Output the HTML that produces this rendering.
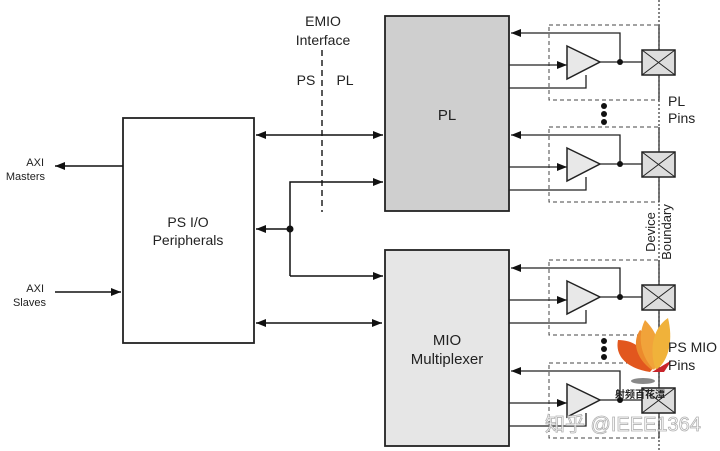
<!DOCTYPE html>
<html><head><meta charset="utf-8"><style>
html,body{margin:0;padding:0;background:#fff;}
svg{display:block;font-family:"Liberation Sans","Noto Sans CJK SC",sans-serif;}
</style></head><body>
<svg width="720" height="451" viewBox="0 0 720 451" xmlns="http://www.w3.org/2000/svg">
<defs>
<marker id="a" markerWidth="10" markerHeight="8" refX="10" refY="4" orient="auto" markerUnits="userSpaceOnUse">
<path d="M0,0 L10,4 L0,8 Z" fill="#111"/></marker>
<marker id="as" markerWidth="10" markerHeight="8" refX="0" refY="4" orient="auto" markerUnits="userSpaceOnUse">
<path d="M10,0 L0,4 L10,8 Z" fill="#111"/></marker>
<g id="ch">
<rect x="549" y="0" width="110" height="75" fill="none" stroke="#444" stroke-width="1" stroke-dasharray="4,3"/>
<line x1="659" y1="0" x2="659" y2="75" stroke="#333" stroke-width="1.3"/>
<polyline points="620,37 620,8 511,8" fill="none" stroke="#222" stroke-width="1.3" marker-end="url(#a)"/>
<line x1="509" y1="40" x2="567" y2="40" stroke="#222" stroke-width="1.3" marker-end="url(#a)"/>
<polyline points="509,63 586,63 586,50" fill="none" stroke="#222" stroke-width="1.3"/>
<path d="M567,21 L600,37 L567,54 Z" fill="#e8e8e8" stroke="#222" stroke-width="1.5"/>
<line x1="600" y1="37" x2="642" y2="37" stroke="#222" stroke-width="1.3"/>
<circle cx="620" cy="37" r="3" fill="#111"/>
<rect x="642" y="25" width="33" height="25" fill="#ddd" stroke="#222" stroke-width="1.5"/>
<path d="M642,25 L675,50 M675,25 L642,50" stroke="#222" stroke-width="1"/>
</g>
</defs>

<line x1="659" y1="0" x2="659" y2="451" stroke="#333" stroke-width="1.2" stroke-dasharray="2,2"/>

<rect x="123" y="118" width="131" height="225" fill="#fff" stroke="#222" stroke-width="1.8"/>
<text x="188" y="227" font-size="14" text-anchor="middle" fill="#222">PS I/O</text>
<text x="188" y="245" font-size="14" text-anchor="middle" fill="#222">Peripherals</text>

<rect x="385" y="16" width="124" height="195" fill="#cfcfcf" stroke="#222" stroke-width="1.8"/>
<text x="447" y="120" font-size="15" text-anchor="middle" fill="#222">PL</text>

<rect x="385" y="250" width="124" height="196" fill="#e6e6e6" stroke="#222" stroke-width="1.8"/>
<text x="447" y="345" font-size="15" text-anchor="middle" fill="#222">MIO</text>
<text x="447" y="364" font-size="15" text-anchor="middle" fill="#222">Multiplexer</text>

<text x="323" y="26" font-size="14" text-anchor="middle" fill="#222">EMIO</text>
<text x="323" y="45" font-size="14" text-anchor="middle" fill="#222">Interface</text>
<line x1="322" y1="50" x2="322" y2="212" stroke="#222" stroke-width="1.5" stroke-dasharray="6,4"/>
<text x="306" y="85" font-size="14" text-anchor="middle" fill="#222">PS</text>
<text x="345" y="85" font-size="14" text-anchor="middle" fill="#222">PL</text>

<line x1="256" y1="135" x2="383" y2="135" stroke="#111" stroke-width="1.5" marker-start="url(#as)" marker-end="url(#a)"/>
<polyline points="290,276 290,182 383,182" fill="none" stroke="#111" stroke-width="1.5" marker-end="url(#a)"/>
<line x1="290" y1="229" x2="256" y2="229" stroke="#111" stroke-width="1.5" marker-end="url(#a)"/>
<line x1="290" y1="276" x2="383" y2="276" stroke="#111" stroke-width="1.5" marker-end="url(#a)"/>
<circle cx="290" cy="229" r="3.5" fill="#111"/>
<line x1="256" y1="323" x2="382" y2="323" stroke="#111" stroke-width="1.5" marker-start="url(#as)" marker-end="url(#a)"/>

<line x1="123" y1="166" x2="55" y2="166" stroke="#111" stroke-width="1.5" marker-end="url(#a)"/>
<text x="44" y="166" font-size="11" text-anchor="end" fill="#222">AXI</text>
<text x="45" y="180" font-size="11" text-anchor="end" fill="#222">Masters</text>
<line x1="55" y1="292" x2="121" y2="292" stroke="#111" stroke-width="1.5" marker-end="url(#a)"/>
<text x="44" y="292" font-size="11" text-anchor="end" fill="#222">AXI</text>
<text x="46" y="306" font-size="11" text-anchor="end" fill="#222">Slaves</text>

<use href="#ch" transform="translate(0,25)"/>
<use href="#ch" transform="translate(0,127)"/>
<use href="#ch" transform="translate(0,260)"/>
<use href="#ch" transform="translate(0,363)"/>

<circle cx="604" cy="106" r="3" fill="#111"/><circle cx="604" cy="114" r="3" fill="#111"/><circle cx="604" cy="122" r="3" fill="#111"/>
<circle cx="604" cy="341" r="3" fill="#111"/><circle cx="604" cy="349" r="3" fill="#111"/><circle cx="604" cy="357" r="3" fill="#111"/>

<text x="668" y="106" font-size="14" fill="#222">PL</text>
<text x="668" y="123" font-size="14" fill="#222">Pins</text>

<text transform="translate(655,232) rotate(-90)" font-size="13" text-anchor="middle" fill="#222">Device</text>
<text transform="translate(671,232) rotate(-90)" font-size="13" text-anchor="middle" fill="#222">Boundary</text>

<!-- flame logo approx -->
<path d="M618,340 C615,355 625,368 650,372 L655,366 C645,350 635,340 618,340 Z" fill="#e2571e"/>
<path d="M640,330 C630,345 640,362 652,370 C660,355 655,340 640,330 Z" fill="#ec8a2c"/>
<path d="M645,320 C636,338 642,358 654,370 C664,355 660,335 645,320 Z" fill="#f1a33a"/>
<path d="M668,318 C650,330 650,355 656,370 C670,360 673,338 668,318 Z" fill="#f0b23a"/>
<path d="M652,372 L672,360 L664,372 Z" fill="#c8242a"/>
<ellipse cx="643" cy="381" rx="12" ry="3" fill="#888"/>
<text x="668" y="352" font-size="14" fill="#222">PS MIO</text>
<text x="668" y="370" font-size="14" fill="#222">Pins</text>
<text x="615" y="398" font-size="10" font-weight="bold" fill="#222">射频百花潭</text>

<text x="545" y="431" font-size="20" fill="#fff" stroke="#aaa" stroke-width="0.8" opacity="0.9">知乎 @IEEE1364</text>
</svg>
</body></html>
